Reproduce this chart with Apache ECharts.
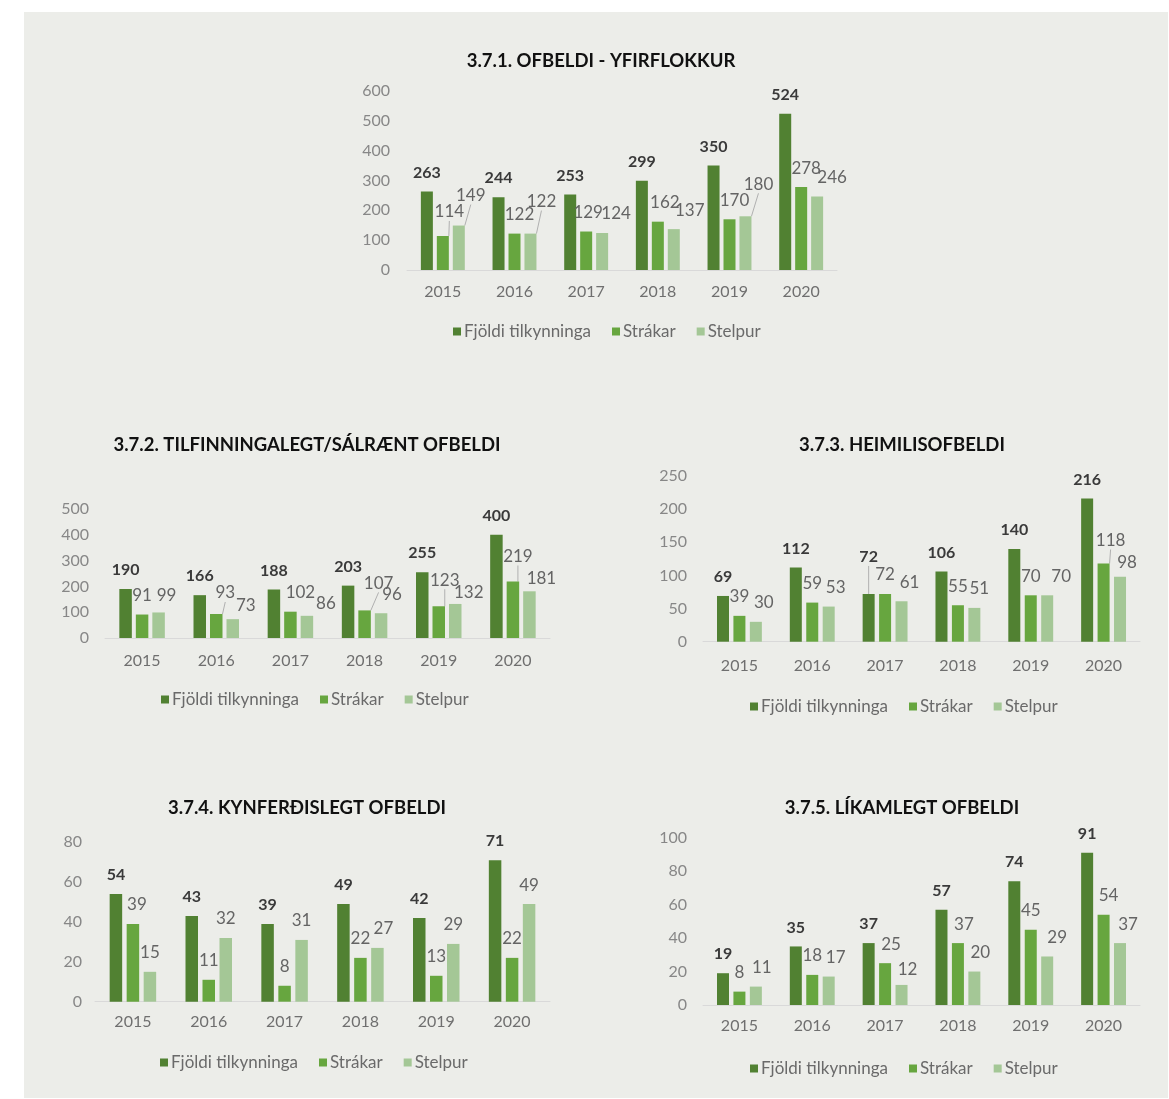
<!DOCTYPE html>
<html><head><meta charset="utf-8">
<script src="https://cdn.jsdelivr.net/npm/echarts@6/dist/echarts.min.js"></script>
<style>html,body{margin:0;padding:0;background:#fff;}#c{width:1169px;height:1099px;}</style>
</head><body><div id="c"></div>
<script>
const years = ['2015','2016','2017','2018','2019','2020'];
const seriesNames = ['Fjöldi tilkynninga','Strákar','Stelpur'];

const title1 = '3.7.1. OFBELDI - YFIRFLOKKUR';
const total1 = [263,244,253,299,350,524];
const boys1  = [114,122,129,162,170,278];
const girls1 = [149,122,124,137,180,246];

const title2 = '3.7.2. TILFINNINGALEGT/SÁLRÆNT OFBELDI';
const total2 = [190,166,188,203,255,400];
const boys2  = [91,93,102,107,123,219];
const girls2 = [99,73,86,96,132,181];

const title3 = '3.7.3. HEIMILISOFBELDI';
const total3 = [69,112,72,106,140,216];
const boys3  = [39,59,72,55,70,118];
const girls3 = [30,53,61,51,70,98];

const title4 = '3.7.4. KYNFERÐISLEGT OFBELDI';
const total4 = [54,43,39,49,42,71];
const boys4  = [39,11,8,22,13,22];
const girls4 = [15,32,31,27,29,49];

const title5 = '3.7.5. LÍKAMLEGT OFBELDI';
const total5 = [19,35,37,57,74,91];
const boys5  = [8,18,25,37,45,54];
const girls5 = [11,17,12,20,29,37];

const yMax = [600, 500, 250, 80, 100];
const yStep = [100, 100, 50, 20, 20];

// ---- layout / style (not data) ----
const colors = ['#518132', '#67a63f', '#a4c796'];
const FONT = 'Lato';
const charts = [
  {title: title1, data: [total1, boys1, girls1], grid: {left: 407, right: 332, top: 91, bottom: 829}, tx: 601, ty: 61, lx: 453, ly: 332, yMargin: 17, xMargin: 14, barW: 12, gap: '33%'},
  {title: title2, data: [total2, boys2, girls2], grid: {left: 105, right: 619, top: 509, bottom: 461}, tx: 307, ty: 445, lx: 161, ly: 700, yMargin: 16, xMargin: 15, barW: 12.5, gap: '32%'},
  {title: title3, data: [total3, boys3, girls3], grid: {left: 703, right: 29, top: 476, bottom: 457.3}, tx: 902, ty: 445, lx: 750, ly: 707, yMargin: 16, xMargin: 16, barW: 12, gap: '37%'},
  {title: title4, data: [total4, boys4, girls4], grid: {left: 95, right: 619, top: 842.3, bottom: 97.3}, tx: 307, ty: 808, lx: 160, ly: 1063, yMargin: 13, xMargin: 12, barW: 12.5, gap: '36%'},
  {title: title5, data: [total5, boys5, girls5], grid: {left: 703, right: 29, top: 837.7, bottom: 94}, tx: 902, ty: 808, lx: 750, ly: 1069, yMargin: 16, xMargin: 13, barW: 12, gap: '37%'}
];
// label nudges [dx, dy, leaderLine] per chart -> series -> category index
const nudges = [
  [{}, {0:[6.5,-5,1],1:[5,0],2:[2,0],3:[7,0],4:[5,0],5:[5,0]}, {0:[12,-11,1],1:[11,-13,1],2:[14,0],3:[16,0],4:[13,-13,1],5:[15,0]}],
  [{}, {1:[9,-2,1],2:[10,0],3:[14,-8,1],4:[6,-7,1],5:[5,-6,1]}, {0:[8,2],1:[13,5],2:[19,7],3:[11,0],4:[13.5,8],5:[12,6]}],
  [{2:[0,-18,1]}, {5:[7,-4,1]}, {0:[8,0],1:[7,0],2:[8,0],3:[5,0],4:[14,0],5:[7,5]}],
  [{}, {0:[4,0]}, {3:[6,0]}],
  [{}, {2:[6,0],3:[6,0],5:[5,0]}, {0:[6,0],1:[7,0],2:[6,4],3:[6,0],4:[10,0],5:[8,0]}]
];

const grid = [], xAxis = [], yAxis = [], series = [], legend = [], graphic = [];
graphic.push({type: 'rect', left: 24, top: 12, shape: {width: 1144, height: 1086}, style: {fill: '#ecede9'}, z: -10});

charts.forEach((c, ci) => {
  grid.push(Object.assign({containLabel: false}, c.grid));
  xAxis.push({
    type: 'category', gridIndex: ci, data: years,
    axisLine: {lineStyle: {color: '#d9d9d9', width: 1}},
    axisTick: {show: false},
    axisLabel: {color: '#6f6f6f', fontFamily: FONT, fontSize: 16, margin: c.xMargin}
  });
  yAxis.push({
    type: 'value', gridIndex: ci, min: 0, max: yMax[ci], interval: yStep[ci],
    splitLine: {show: false}, axisLine: {show: false}, axisTick: {show: false},
    axisLabel: {color: '#878787', fontFamily: FONT, fontSize: 16, margin: c.yMargin}
  });
  c.data.forEach((vals, si) => {
    const nd = nudges[ci][si];
    series.push({
      type: 'bar', name: seriesNames[si], xAxisIndex: ci, yAxisIndex: ci,
      barWidth: c.barW, barGap: c.gap,
      itemStyle: {color: colors[si]},
      data: vals.map((v, i) => nd[i] && nd[i][2] ? {value: v, labelLine: {show: true}} : v),
      label: {
        show: true, position: 'top', distance: 10,
        fontFamily: FONT, fontSize: si === 0 ? 16 : 17, lineHeight: 18,
        fontWeight: si === 0 ? 'bold' : 'normal',
        color: si === 0 ? '#3a3a3a' : '#646464'
      },
      labelLine: {show: false, lineStyle: {color: '#b0b0b0', width: 1}},
      labelLayout: function (p) {
        const o = nd[p.dataIndex];
        return o ? {dx: o[0], dy: o[1]} : {};
      }
    });
  });
  legend.push({
    left: c.lx, top: c.ly - 9, orient: 'horizontal', padding: 0,
    data: seriesNames.map((n, k) => ({name: n, itemStyle: {color: colors[k]}})),
    icon: 'rect', itemWidth: 8, itemHeight: 8, itemGap: 21,
    textStyle: {color: '#6a6a6a', fontFamily: FONT, fontSize: 17, padding: [0, 0, 0, -2]},
    selectedMode: false
  });
  graphic.push({
    type: 'text', x: c.tx, y: c.ty,
    style: {text: c.title, fill: '#111', font: 'bold 18.5px Lato', textAlign: 'center', textVerticalAlign: 'middle'}
  });
});

const chart = echarts.init(document.getElementById('c'), null, {renderer: 'canvas'});
chart.setOption({
  animation: false,
  backgroundColor: '#ffffff',
  grid, xAxis, yAxis, series, legend, graphic
});
</script></body></html>
